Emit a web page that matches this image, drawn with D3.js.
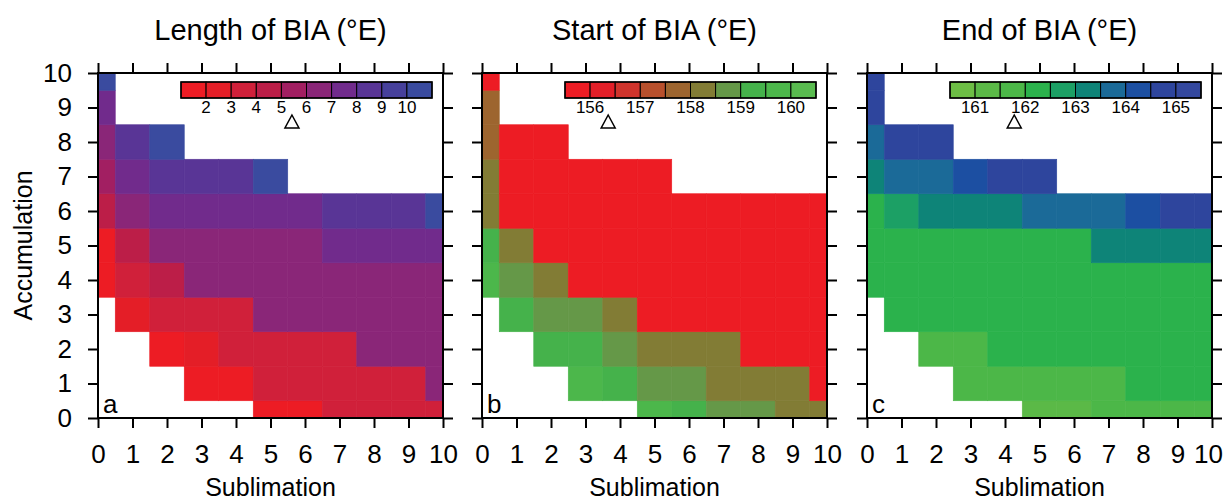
<!DOCTYPE html>
<html>
<head>
<meta charset="utf-8">
<script src="https://cdn.jsdelivr.net/npm/d3@7"></script>
<style>
  body { margin: 0; background: #fff; }
  svg { font-family: 'Liberation Sans', Arial, Helvetica, sans-serif; }
</style>
</head>
<body>
<svg id="bia" width="1224" height="502"></svg>
<script>
// grid axes
const sublimation = [0, 1, 2, 3, 4, 5, 6, 7, 8, 9, 10];
const accumulation = [0, 1, 2, 3, 4, 5, 6, 7, 8, 9, 10];
const axisTicks = [0, 1, 2, 3, 4, 5, 6, 7, 8, 9, 10];

// rows = accumulation 0..10, columns = sublimation 0..10, null = no BIA
const lengthBIA = [
  [null, null, null, null, null, 1.5, 1.5, 3.5, 3.5, 3.5, 3.5],
  [null, null, null, 1.5, 1.5, 3.5, 3.5, 3.5, 3.5, 3.5, 6.5],
  [null, null, 1.5, 2.5, 3.5, 3.5, 3.5, 3.5, 6.5, 6.5, 6.5],
  [null, 2.5, 3.5, 3.5, 3.5, 6.5, 6.5, 6.5, 6.5, 6.5, 6.5],
  [1.5, 3.5, 4.5, 6.5, 6.5, 6.5, 6.5, 6.5, 6.5, 6.5, 6.5],
  [1.5, 4.5, 6.5, 6.5, 6.5, 6.5, 6.5, 7.5, 7.5, 7.5, 7.5],
  [4.5, 6.5, 7.5, 7.5, 7.5, 7.5, 7.5, 8.5, 8.5, 8.5, 10.5],
  [5.5, 7.5, 8.5, 8.5, 8.5, 10.5, null, null, null, null, null],
  [6.5, 8.5, 10.5, null, null, null, null, null, null, null, null],
  [7.5, null, null, null, null, null, null, null, null, null, null],
  [10.5, null, null, null, null, null, null, null, null, null, null]
];

const startBIA = [
  [null, null, null, null, null, 159.7, 159.2, 158.7, 158.7, 158.3, 158.3],
  [null, null, null, 159.7, 159.2, 158.7, 158.7, 158.3, 158.3, 158.3, 155.8],
  [null, null, 159.2, 159.2, 158.7, 158.3, 158.3, 158.3, 155.8, 155.8, 155.8],
  [null, 159.2, 158.7, 158.7, 158.3, 155.8, 155.8, 155.8, 155.8, 155.8, 155.8],
  [159.7, 158.7, 158.3, 155.8, 155.8, 155.8, 155.8, 155.8, 155.8, 155.8, 155.8],
  [159.2, 158.3, 155.8, 155.8, 155.8, 155.8, 155.8, 155.8, 155.8, 155.8, 155.8],
  [158.3, 155.8, 155.8, 155.8, 155.8, 155.8, 155.8, 155.8, 155.8, 155.8, 155.8],
  [158.3, 155.8, 155.8, 155.8, 155.8, 155.8, null, null, null, null, null],
  [157.7, 155.8, 155.8, null, null, null, null, null, null, null, null],
  [157.7, null, null, null, null, null, null, null, null, null, null],
  [155.8, null, null, null, null, null, null, null, null, null, null]
];

const endBIA = [
  [null, null, null, null, null, 161.3, 161.3, 161.8, 161.8, 161.8, 161.8],
  [null, null, null, 161.8, 161.8, 161.8, 161.8, 161.8, 162.3, 162.3, 162.3],
  [null, null, 161.8, 161.8, 162.3, 162.3, 162.3, 162.3, 162.3, 162.3, 162.3],
  [null, 162.3, 162.3, 162.3, 162.3, 162.3, 162.3, 162.3, 162.3, 162.3, 162.3],
  [162.3, 162.3, 162.3, 162.3, 162.3, 162.3, 162.3, 162.3, 162.3, 162.3, 162.3],
  [162.3, 162.3, 162.3, 162.3, 162.3, 162.3, 162.3, 163.3, 163.3, 163.3, 163.3],
  [162.3, 162.8, 163.3, 163.3, 163.3, 163.8, 163.8, 163.8, 164.3, 164.8, 164.8],
  [163.3, 163.8, 163.8, 164.3, 164.8, 164.8, null, null, null, null, null],
  [163.8, 164.8, 164.8, null, null, null, null, null, null, null, null],
  [164.8, null, null, null, null, null, null, null, null, null, null],
  [164.8, null, null, null, null, null, null, null, null, null, null]
];

// colour bars: box edges, box colours, labelled values, triangle marker
const lengthEdges = [1, 2, 3, 4, 5, 6, 7, 8, 9, 10, 11];
const startEdges = [155.5, 156, 156.5, 157, 157.5, 158, 158.5, 159, 159.5, 160, 160.5];
const endEdges = [160.5, 161, 161.5, 162, 162.5, 163, 163.5, 164, 164.5, 165, 165.5];

const lengthColors = ['#ed1c24', '#e41e27', '#d0203a', '#bc1e48', '#a21f62', '#8a2678', '#712b8c', '#593596', '#46409b', '#3a4b9f'];
const startColors = ['#ed1c24', '#e31f28', '#d0342c', '#b8502c', '#9d652f', '#827c35', '#659848', '#45b24b', '#4cb74b', '#59bb4f'];
const endColors = ['#6dbe45', '#5bb947', '#4cb748', '#2bb24c', '#1ca065', '#0e8478', '#1b6a98', '#1c4fa2', '#2e459d', '#34489e'];

const lengthLabels = [2, 3, 4, 5, 6, 7, 8, 9, 10];
const startLabels = [156, 157, 158, 159, 160];
const endLabels = [161, 162, 163, 164, 165];

const lengthMark = 5.42;
const startMark = 156.36;
const endMark = 161.78;

const titles = ['Length of BIA (\u00b0E)', 'Start of BIA (\u00b0E)', 'End of BIA (\u00b0E)'];
const letters = ['a', 'b', 'c'];

const svg = d3.select('svg#bia');

const plotSize = 345;
const plotTop = 73;
const panelLefts = [98, 482, 867];

const panels = [
  { grid: lengthBIA, edges: lengthEdges, colors: lengthColors, labels: lengthLabels, mark: lengthMark },
  { grid: startBIA, edges: startEdges, colors: startColors, labels: startLabels, mark: startMark },
  { grid: endBIA, edges: endEdges, colors: endColors, labels: endLabels, mark: endMark }
];

const xScale = d3.scaleLinear().domain([0, 10]).range([0, plotSize]);
const yScale = d3.scaleLinear().domain([0, 10]).range([plotSize, 0]);

const styleAxis = (sel, showText) => {
  sel.selectAll('.domain').remove();
  sel.selectAll('.tick line').attr('stroke', '#000').attr('stroke-width', 2);
  sel.selectAll('.tick text')
    .attr('fill', '#000')
    .style('font-size', '26px')
    .style('display', showText ? null : 'none');
};

const drawPanel = (props) => {
  const { panel, index } = props;
  const left = panelLefts[index];

  const g = svg.append('g')
    .attr('transform', `translate(${left},${plotTop})`);

  // colour for each cell, binned like the colour bar
  const colorScale = d3.scaleThreshold()
    .domain(panel.edges.slice(1, -1))
    .range(panel.colors);

  const cells = [];
  panel.grid.forEach((row, j) => {
    row.forEach((v, i) => {
      if (v !== null) cells.push({ x: sublimation[i], y: accumulation[j], value: v });
    });
  });

  const x0 = d => xScale(Math.max(0, d.x - 0.5));
  const x1 = d => xScale(Math.min(10, d.x + 0.5));
  const y0 = d => yScale(Math.min(10, d.y + 0.5));
  const y1 = d => yScale(Math.max(0, d.y - 0.5));

  g.selectAll('rect.cell').data(cells)
    .enter().append('rect')
      .attr('class', 'cell')
      .attr('x', x0)
      .attr('y', y0)
      .attr('width', d => x1(d) - x0(d))
      .attr('height', d => y1(d) - y0(d))
      .attr('fill', d => colorScale(d.value))
      .attr('stroke', d => colorScale(d.value))
      .attr('stroke-width', 0.6);

  // axes on all four sides, ticks outward
  const xAxisG = g.append('g')
    .attr('transform', `translate(0,${plotSize})`)
    .call(d3.axisBottom(xScale).tickValues(axisTicks).tickSize(10).tickPadding(17))
    .call(styleAxis, true);
  // last panel: keep the final "10" inside the page
  if (index === 2) {
    xAxisG.selectAll('.tick text').filter(d => d === 10).attr('dx', -4);
  }
  g.append('g')
    .call(d3.axisTop(xScale).tickValues(axisTicks).tickSize(10))
    .call(styleAxis, false);
  g.append('g')
    .call(d3.axisLeft(yScale).tickValues(axisTicks).tickSize(10).tickPadding(16))
    .call(styleAxis, index === 0);
  g.append('g')
    .attr('transform', `translate(${plotSize},0)`)
    .call(d3.axisRight(yScale).tickValues(axisTicks).tickSize(10))
    .call(styleAxis, false);

  g.append('rect')
    .attr('width', plotSize)
    .attr('height', plotSize)
    .attr('fill', 'none')
    .attr('stroke', '#000')
    .attr('stroke-width', 2);

  // colour bar
  const barLeft = 83, barTop = 9, barWidth = 251, barHeight = 16;
  const barScale = d3.scaleLinear()
    .domain(d3.extent(panel.edges))
    .range([barLeft, barLeft + barWidth]);

  const bar = g.append('g');
  bar.selectAll('rect').data(panel.colors)
    .enter().append('rect')
      .attr('x', (d, k) => barScale(panel.edges[k]))
      .attr('y', barTop)
      .attr('width', (d, k) => barScale(panel.edges[k + 1]) - barScale(panel.edges[k]))
      .attr('height', barHeight)
      .attr('fill', d => d)
      .attr('stroke', '#000')
      .attr('stroke-width', 1);
  bar.append('rect')
    .attr('x', barLeft)
    .attr('y', barTop)
    .attr('width', barWidth)
    .attr('height', barHeight)
    .attr('fill', 'none')
    .attr('stroke', '#000')
    .attr('stroke-width', 1.5);
  bar.selectAll('text').data(panel.labels)
    .enter().append('text')
      .attr('x', d => barScale(d))
      .attr('y', barTop + barHeight + 15)
      .attr('text-anchor', 'middle')
      .style('font-size', '17px')
      .text(d => d);

  const tx = barScale(panel.mark);
  bar.append('path')
    .attr('d', `M${tx},${42} L${tx + 7},${55} L${tx - 7},${55} Z`)
    .attr('fill', '#fff')
    .attr('stroke', '#000')
    .attr('stroke-width', 1.5);

  // panel letter and title
  g.append('text')
    .attr('x', 5)
    .attr('y', plotSize - 5)
    .style('font-size', '26px')
    .text(letters[index]);

  svg.append('text')
    .attr('x', left + plotSize / 2)
    .attr('y', 40)
    .attr('text-anchor', 'middle')
    .style('font-size', '29px')
    .text(titles[index]);

  svg.append('text')
    .attr('x', left + plotSize / 2)
    .attr('y', 496)
    .attr('text-anchor', 'middle')
    .style('font-size', '25px')
    .text('Sublimation');
};

panels.forEach((panel, index) => drawPanel({ panel, index }));

svg.append('text')
  .attr('transform', `translate(32,${plotTop + plotSize / 2}) rotate(-90)`)
  .attr('text-anchor', 'middle')
  .style('font-size', '25px')
  .text('Accumulation');
</script>
</body>
</html>
